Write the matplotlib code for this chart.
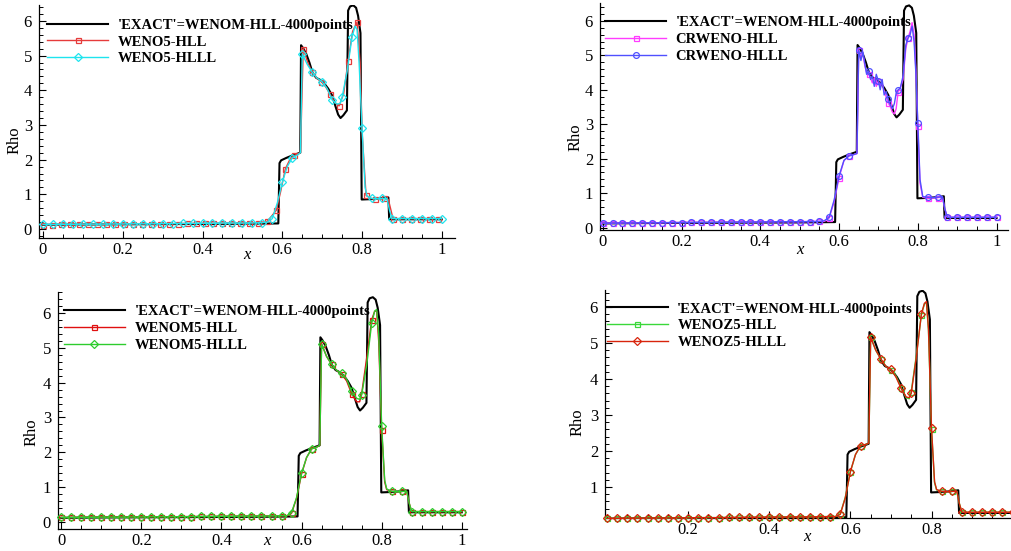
import numpy as np
import matplotlib.pyplot as plt
from matplotlib.lines import Line2D
from matplotlib.ticker import MultipleLocator

plt.rcParams['font.family'] = ['Liberation Serif', 'DejaVu Serif']

# ---- data (blast wave density) ----

# quiet region ahead of the contact, one sample every 0.025
x_left = np.linspace(0.0, 0.55, 23)
rho_left = [0.13, 0.13, 0.135, 0.135, 0.14, 0.14, 0.14, 0.145, 0.145, 0.15, 0.15,
            0.15, 0.155, 0.155, 0.16, 0.16, 0.165, 0.165, 0.17, 0.17, 0.17, 0.175, 0.18]
x_tail = [0.875, 0.9, 0.925, 0.95, 0.975, 1.0]
rho_tail = [0.30, 0.30, 0.30, 0.30, 0.30, 0.30]

# fine-grid reference ('EXACT')
x_exact = [0.0, 0.1, 0.2, 0.3, 0.4, 0.5, 0.59, 0.593, 0.597, 0.61, 0.625, 0.645,
           0.647, 0.652, 0.66, 0.668, 0.676, 0.685, 0.695, 0.705, 0.715, 0.725,
           0.733, 0.74, 0.746, 0.753, 0.762, 0.765, 0.77, 0.778, 0.785, 0.79,
           0.796, 0.799, 0.82, 0.845, 0.866, 0.868, 1.0]
rho_exact = [0.12, 0.13, 0.135, 0.14, 0.145, 0.15, 0.16, 1.9, 1.98, 2.05, 2.12, 2.2,
             5.3, 5.22, 5.05, 4.8, 4.5, 4.36, 4.3, 4.2, 4.05, 3.85,
             3.55, 3.3, 3.2, 3.28, 3.42, 6.3, 6.42, 6.45, 6.38, 6.15,
             5.65, 0.85, 0.86, 0.88, 0.91, 0.28, 0.28]

# 400-cell results around the shocked region
x_mid = [0.5625, 0.575, 0.5875, 0.6, 0.6125, 0.625, 0.6375, 0.6455, 0.65, 0.6625,
         0.675, 0.6875, 0.7, 0.7125, 0.725, 0.7375, 0.745, 0.75, 0.7625, 0.775,
         0.7825, 0.7875, 0.7925, 0.8, 0.8075, 0.8125, 0.825, 0.8375, 0.85, 0.8625, 0.8685]

rho_weno5_hlll = [0.2, 0.3, 0.75, 1.35, 1.8, 2.05, 2.13, 2.2, 5.05, 4.75,
                  4.52, 4.35, 4.25, 4.05, 3.72, 3.6, 3.62, 3.8, 4.55, 5.55,
                  5.85, 5.75, 4.8, 2.9, 1.2, 0.95, 0.88, 0.87, 0.88, 0.88, 0.55]

# WENO5-HLL symbols sit on a 0.0225 spacing
x_w5hll_left = np.linspace(0.0, 0.54, 25)
rho_w5hll_left = [0.125, 0.125, 0.13, 0.13, 0.135, 0.135, 0.14, 0.14, 0.14, 0.145,
                  0.145, 0.15, 0.15, 0.15, 0.155, 0.155, 0.16, 0.16, 0.165, 0.165,
                  0.17, 0.17, 0.175, 0.175, 0.18]
x_w5hll_mid = [0.5625, 0.585, 0.5963, 0.6075, 0.6188, 0.63, 0.6455, 0.6525, 0.6638,
               0.675, 0.6863, 0.6975, 0.7088, 0.72, 0.7313, 0.7425, 0.7538, 0.765,
               0.7763, 0.7875, 0.795, 0.8, 0.81, 0.8213, 0.8325, 0.8438, 0.855,
               0.866, 0.8775]
rho_w5hll_mid = [0.22, 0.54, 1.1, 1.73, 2.0, 2.12, 2.2, 5.2, 4.8,
                 4.52, 4.35, 4.25, 4.1, 3.88, 3.65, 3.55, 3.9, 4.85,
                 5.7, 5.97, 4.8, 2.8, 0.97, 0.88, 0.87, 0.87, 0.88,
                 0.85, 0.3]
x_w5hll_tail = [0.9, 0.9225, 0.945, 0.9675, 0.99, 1.0]
rho_w5hll_tail = [0.30, 0.30, 0.30, 0.30, 0.30, 0.30]

# CRWENO wiggles need a finer sampling
x_cr = [0.5625, 0.575, 0.5875, 0.6, 0.6125, 0.625, 0.6375, 0.6455, 0.65, 0.6555,
        0.6605, 0.6655, 0.67, 0.675, 0.68, 0.6845, 0.6895, 0.6945, 0.7, 0.7045,
        0.7095, 0.7145, 0.7195, 0.725, 0.7305, 0.7355, 0.7405, 0.745, 0.75, 0.7555,
        0.7625, 0.7695, 0.775, 0.7805, 0.7855, 0.7905, 0.795, 0.8, 0.8055, 0.8125,
        0.825, 0.8375, 0.85, 0.8625, 0.8685]
rho_crweno_hlll = [0.2, 0.3, 0.8, 1.5, 1.95, 2.08, 2.12, 2.15, 5.15, 4.85,
                   5.1, 4.75, 4.45, 4.55, 4.3, 4.4, 4.1, 4.45, 4.25, 4.0,
                   4.3, 3.85, 3.95, 3.72, 3.55, 3.45, 3.6, 3.9, 4.0, 4.05,
                   4.4, 5.3, 5.5, 5.6, 5.85, 5.4, 4.5, 3.05, 1.4, 0.9,
                   0.88, 0.87, 0.88, 0.9, 0.55]
rho_crweno_hll = [0.18, 0.28, 0.75, 1.45, 1.95, 2.08, 2.12, 2.15, 5.15, 4.95,
                  5.05, 4.7, 4.5, 4.45, 4.35, 4.2, 4.35, 4.1, 4.25, 4.1,
                  4.2, 3.95, 3.8, 3.62, 3.5, 3.35, 3.3, 3.45, 3.95, 4.05,
                  4.3, 5.2, 5.5, 5.7, 5.95, 5.6, 4.6, 2.95, 1.3, 0.88,
                  0.85, 0.86, 0.87, 0.88, 0.55]

rho_wenom5_hlll = [0.18, 0.27, 0.7, 1.4, 1.85, 2.1, 2.15, 2.2, 5.1, 4.75,
                   4.53, 4.35, 4.27, 4.1, 3.75, 3.55, 3.52, 3.65, 4.5, 5.7,
                   6.05, 6.1, 5.4, 2.75, 1.2, 0.95, 0.88, 0.87, 0.88, 0.88, 0.55]
rho_wenom5_hll = [0.17, 0.25, 0.68, 1.38, 1.85, 2.1, 2.15, 2.2, 5.12, 4.75,
                  4.52, 4.35, 4.25, 4.05, 3.68, 3.45, 3.45, 3.68, 4.7, 5.8,
                  6.05, 6.05, 5.2, 2.65, 1.15, 0.93, 0.88, 0.87, 0.88, 0.88, 0.55]

rho_wenoz5_hlll = [0.18, 0.24, 0.7, 1.43, 1.9, 2.15, 2.18, 2.22, 5.16, 4.8,
                   4.56, 4.35, 4.27, 4.05, 3.74, 3.5, 3.48, 3.6, 4.6, 5.8,
                   6.1, 6.15, 5.4, 2.63, 1.15, 0.93, 0.88, 0.87, 0.88, 0.88, 0.55]
rho_wenoz5_hll = [0.18, 0.25, 0.72, 1.42, 1.9, 2.14, 2.18, 2.22, 5.16, 4.8,
                  4.55, 4.35, 4.26, 4.08, 3.76, 3.48, 3.45, 3.65, 4.65, 5.78,
                  6.08, 6.12, 5.35, 2.6, 1.12, 0.92, 0.88, 0.87, 0.88, 0.88, 0.55]

exact_label = "'EXACT'=WENOM-HLL-4000points"


def join(xl, rl, xm, rm, xt, rt):
    x = np.concatenate([xl, xm, xt])
    r = np.concatenate([rl, rm, rt])
    return x, r


def marks(x, step):
    k = np.asarray(x) / step
    return np.isclose(k, np.round(k), atol=1e-3)


W, H = 1011, 551
fig = plt.figure(figsize=(W / 100, H / 100), dpi=100)

panels = [
    dict(box=(39, 5, 455, 238), xlim=(-0.01, 1.033), ylim=(-0.26, 6.46),
         xticks=[0, 0.2, 0.4, 0.6, 0.8, 1], xlab=(0.5, -0.072), ylab=(-0.058, 0.42),
         leg=(0.019, 0.942),
         series=[
             ('WENO5-HLL', '#e63b3b', 's', join(x_w5hll_left, rho_w5hll_left, x_w5hll_mid,
                                                rho_w5hll_mid, x_w5hll_tail, rho_w5hll_tail), 0.0225),
             ('WENO5-HLLL', '#1ee4ee', 'D', join(x_left, rho_left, x_mid, rho_weno5_hlll,
                                                 x_tail, rho_tail), 0.025),
         ]),
    dict(box=(600, 3, 1008, 230), xlim=(-0.007, 1.029), ylim=(-0.07, 6.52),
         xticks=[0, 0.2, 0.4, 0.6, 0.8, 1], xlab=(0.49, -0.088), ylab=(-0.061, 0.41),
         leg=(0.012, 0.944),
         series=[
             ('CRWENO-HLL', '#ff3cff', 's', join(x_left, rho_left, x_cr, rho_crweno_hll,
                                                 x_tail, rho_tail), 0.025),
             ('CRWENO-HLLL', '#5050ff', 'o', join(x_left, rho_left, x_cr, rho_crweno_hlll,
                                                  x_tail, rho_tail), 0.025),
         ]),
    dict(box=(58, 292, 467, 529), xlim=(-0.008, 1.013), ylim=(-0.2, 6.6),
         xticks=[0, 0.2, 0.4, 0.6, 0.8, 1], xlab=(0.51, -0.052), ylab=(-0.064, 0.41),
         leg=(0.014, 0.946),
         series=[
             ('WENOM5-HLL', '#e01010', 's', join(x_left, rho_left, x_mid, rho_wenom5_hll,
                                                 x_tail, rho_tail), 0.025),
             ('WENOM5-HLLL', '#2ecc2e', 'D', join(x_left, rho_left, x_mid, rho_wenom5_hlll,
                                                  x_tail, rho_tail), 0.025),
         ]),
    dict(box=(605, 290, 1011, 518), xlim=(-0.005, 0.996), ylim=(0.14, 6.47),
         xticks=[0.2, 0.4, 0.6, 0.8], xlab=(0.497, -0.083), ylab=(-0.067, 0.42),
         leg=(0.004, 0.946),
         series=[
             ('WENOZ5-HLL', '#3ad83a', 's', join(x_left, rho_left, x_mid, rho_wenoz5_hll,
                                                 x_tail, rho_tail), 0.025),
             ('WENOZ5-HLLL', '#d8240c', 'D', join(x_left, rho_left, x_mid, rho_wenoz5_hlll,
                                                  x_tail, rho_tail), 0.025),
         ]),
]

for p in panels:
    l, t, r, b = p['box']
    ax = fig.add_axes([l / W, 1 - b / H, (r - l) / W, (b - t) / H])
    ax.plot(x_exact, rho_exact, color='black', lw=1.5, zorder=2)
    handles = [Line2D([], [], color='black', lw=1.5)]
    labels = [exact_label]
    for k, (name, col, mk, (x, rho), step) in enumerate(p['series']):
        ms = 4.2 if mk == 'o' else 3.6
        ax.plot(x, rho, color=col, lw=1.0, marker=mk, ms=ms, mfc='none', mec=col,
                mew=0.9, markevery=marks(x, step), zorder=3 + k, clip_on=False)
        handles.append(Line2D([], [], color=col, lw=1.0, marker=mk, ms=ms,
                              mfc='none', mec=col, mew=0.9))
        labels.append(name)

    ax.set_xlim(*p['xlim'])
    ax.set_ylim(*p['ylim'])
    ax.set_xticks(p['xticks'])
    ax.set_xticklabels([('%g' % v) for v in p['xticks']])
    ax.set_yticks([1, 2, 3, 4, 5, 6] if p['ylim'][0] > 0 else [0, 1, 2, 3, 4, 5, 6])
    ax.xaxis.set_minor_locator(MultipleLocator(0.05))
    ax.yaxis.set_minor_locator(MultipleLocator(0.2))
    ax.spines['top'].set_visible(False)
    ax.spines['right'].set_visible(False)
    for s in ('left', 'bottom'):
        ax.spines[s].set_linewidth(0.9)
    ax.tick_params(which='major', direction='in', length=5, width=0.8,
                   labelsize=12, pad=3)
    ax.tick_params(which='minor', direction='in', length=3, width=0.7)
    ax.tick_params(axis='y', pad=5)

    ax.set_xlabel('x', fontsize=12, style='italic')
    ax.xaxis.set_label_coords(*p['xlab'])
    ax.xaxis.label.set_va('center')
    ax.set_ylabel('Rho', fontsize=12)
    ax.yaxis.set_label_coords(*p['ylab'])
    ax.yaxis.label.set_va('center')

    ax.legend(handles, labels, loc='upper left', bbox_to_anchor=p['leg'],
              frameon=False, borderpad=0, borderaxespad=0, numpoints=1,
              handlelength=4.2, handletextpad=0.65, labelspacing=0.25,
              prop=dict(weight='bold', size=10.5))

fig.savefig('out.png', dpi=100)
